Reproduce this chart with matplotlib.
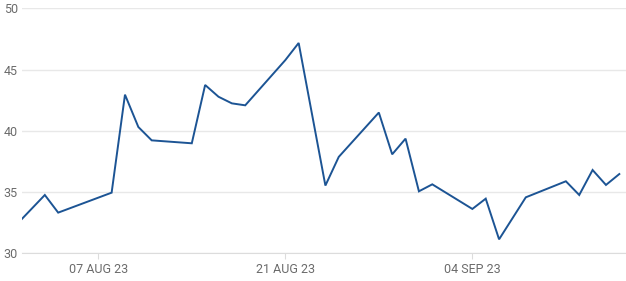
import pandas as pd
import matplotlib
matplotlib.use("Agg")
import matplotlib.pyplot as plt

# Daily values (trading days)
dates = [
    "2023-08-01", "2023-08-03", "2023-08-04", "2023-08-08", "2023-08-09",
    "2023-08-10", "2023-08-11", "2023-08-14", "2023-08-15", "2023-08-16",
    "2023-08-17", "2023-08-18", "2023-08-21", "2023-08-22", "2023-08-24",
    "2023-08-25", "2023-08-28", "2023-08-29", "2023-08-30", "2023-08-31",
    "2023-09-01", "2023-09-04", "2023-09-05", "2023-09-06", "2023-09-08",
    "2023-09-11", "2023-09-12", "2023-09-13", "2023-09-14", "2023-09-15",
]
values = [
    32.48, 34.76, 33.32, 34.95, 42.95,
    40.31, 39.22, 38.98, 43.74, 42.78,
    42.24, 42.08, 45.77, 47.17, 35.53,
    37.87, 41.49, 38.08, 39.36, 35.06,
    35.63, 33.62, 34.46, 31.14, 34.57,
    35.88, 34.76, 36.80, 35.58, 36.47,
]
tick_dates = ["2023-08-07", "2023-08-21", "2023-09-04"]
tick_labels = ["07 AUG 23", "21 AUG 23", "04 SEP 23"]
y_ticks = [30, 35, 40, 45, 50]

x = pd.to_datetime(dates)

plt.rcParams["font.family"] = ["Roboto", "DejaVu Sans"]

fig = plt.figure(figsize=(6.26, 2.81), dpi=100)
ax = fig.add_axes([22 / 626, (281 - 253.3) / 281, 1 - 22 / 626, (253.3 - 8.3) / 281])

ax.plot(x, values, color="#1c5494", linewidth=1.4, solid_joinstyle="miter")

ax.set_ylim(30, 50)
ax.set_yticks(y_ticks)
ax.set_xlim(pd.Timestamp("2023-08-01 07:00"), pd.Timestamp("2023-09-15 12:00"))
ax.set_xticks(pd.to_datetime(tick_dates))
ax.set_xticklabels(tick_labels)

ax.grid(axis="y", color="#e8e8e8", linewidth=1)
ax.set_axisbelow(True)
for side in ["top", "right", "left"]:
    ax.spines[side].set_visible(False)
ax.spines["bottom"].set_color("#dcdcdc")

ax.tick_params(axis="y", length=0, pad=3, labelsize=9, labelcolor="#6b6b6b")
ax.tick_params(axis="x", length=4, width=0.8, color="#dcdcdc", pad=3,
               labelsize=9, labelcolor="#6b6b6b")

fig.savefig("out.png", dpi=100)
